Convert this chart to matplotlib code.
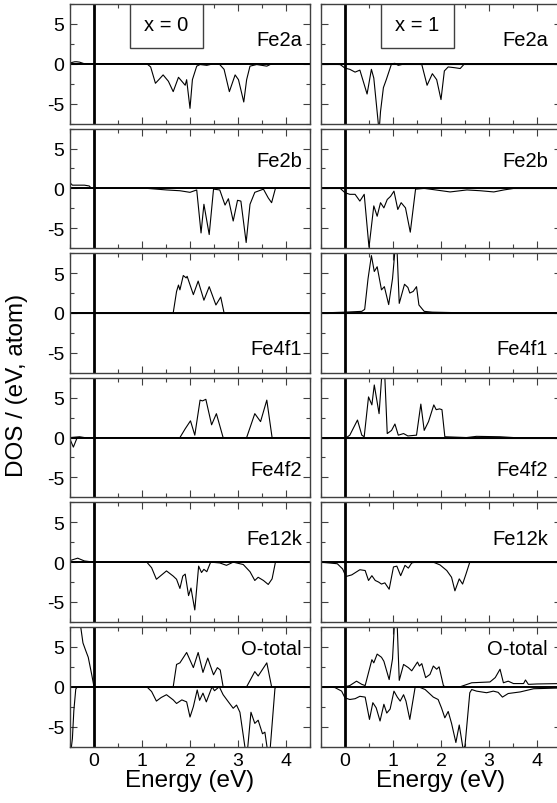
#spin-resolved partial DOS, x = 0 and x = 1
import numpy as np
import matplotlib.pyplot as plt
from matplotlib.patches import Rectangle
from matplotlib.ticker import MultipleLocator

plt.rcParams['font.family'] = ['Liberation Sans', 'DejaVu Sans']
plt.rcParams['axes.unicode_minus'] = False

site_labels = ['Fe2a', 'Fe2b', 'Fe4f1', 'Fe4f2', 'Fe12k', 'O-total']
column_titles = ['x = 0', 'x = 1']

flat_e = [-0.5, 4.5]
flat_d = [0, 0]

# ---- x = 0 ----
e_fe2a_0_up = [-0.5, -0.4, -0.36, -0.3, -0.2, 0.0, 4.5]
d_fe2a_0_up = [0.1, 0.25, 0.25, 0.2, 0.0, 0.0, 0.0]
e_fe2a_0_dn = [-0.5, 1.10, 1.18, 1.28, 1.35, 1.44, 1.55, 1.65, 1.76, 1.83, 1.90, 1.93, 2.00, 2.05,
               2.14, 2.21, 2.35, 2.49, 2.62, 2.71, 2.82, 2.94, 3.01, 3.12, 3.18, 3.25, 3.39, 3.60,
               3.67, 3.75, 4.5]
d_fe2a_0_dn = [0.0, 0.0, -0.4, -2.45, -2.0, -1.4, -2.2, -3.5, -1.7, -2.2, -2.7, -2.0, -5.6, -2.0,
               -0.3, -0.1, -0.2, 0.0, -0.1, -0.7, -3.5, -1.4, -2.0, -4.8, -2.0, -0.3, -0.1, -0.3,
               -0.1, 0.0, 0.0]

e_fe2b_0_up = [-0.5, -0.45, -0.35, -0.2, -0.1, -0.05, 4.5]
d_fe2b_0_up = [0.7, 0.4, 0.4, 0.4, 0.3, 0.0, 0.0]
e_fe2b_0_dn = [-0.5, 1.10, 1.51, 1.79, 2.00, 2.14, 2.23, 2.29, 2.40, 2.49, 2.62, 2.73, 2.80, 2.90,
               2.99, 3.06, 3.17, 3.25, 3.35, 3.53, 3.63, 3.70, 3.78, 4.5]
d_fe2b_0_dn = [0.0, 0.0, -0.2, -0.3, -0.5, -0.2, -5.6, -2.0, -5.8, -0.1, -0.2, -2.1, -1.3, -4.1,
               -1.5, -1.6, -6.8, -2.0, -0.5, -0.1, -1.2, -1.8, 0.0, 0.0]

e_fe4f1_0_up = [-0.5, 1.65, 1.72, 1.76, 1.79, 1.86, 1.92, 1.94, 2.07, 2.17, 2.29, 2.40, 2.54, 2.64,
                2.71, 4.5]
d_fe4f1_0_up = [0.0, 0.0, 2.7, 3.5, 2.9, 4.7, 4.4, 4.6, 2.3, 4.0, 1.6, 3.3, 1.0, 2.0, 0.0, 0.0]
e_fe4f1_0_dn = flat_e
d_fe4f1_0_dn = flat_d

e_fe4f2_0_up = [-0.5, -0.3, -0.2, 1.79, 1.90, 2.01, 2.10, 2.21, 2.26, 2.33, 2.45, 2.55, 2.69, 3.18,
                3.35, 3.47, 3.60, 3.71, 4.5]
d_fe4f2_0_up = [0.0, 0.1, 0.0, 0.0, 1.1, 2.1, 0.3, 4.7, 4.6, 4.8, 1.6, 3.0, 0.0, 0.0, 3.0, 2.0,
                4.7, 0.0, 0.0]
e_fe4f2_0_dn = [-0.5, -0.43, -0.35, 4.5]
d_fe4f2_0_dn = [-0.2, -1.2, 0.0, 0.0]

e_fe12k_0_up = [-0.5, -0.34, -0.2, 0.0, 4.5]
d_fe12k_0_up = [0.2, 0.5, 0.15, 0.0, 0.0]
e_fe12k_0_dn = [-0.5, 1.10, 1.20, 1.30, 1.38, 1.51, 1.65, 1.72, 1.79, 1.85, 1.90, 1.97, 2.02, 2.10,
                2.18, 2.24, 2.29, 2.35, 2.43, 2.62, 2.76, 2.90, 3.11, 3.25, 3.35, 3.42, 3.53, 3.63,
                3.71, 3.78, 4.5]
d_fe12k_0_dn = [0.0, 0.0, -0.7, -2.15, -1.75, -1.1, -1.75, -2.15, -3.3, -1.75, -1.5, -4.2, -3.25,
                -6.0, -0.5, -1.3, -0.9, -1.2, 0.0, -0.1, -0.4, 0.0, -0.3, -1.2, -2.3, -1.9, -2.3,
                -2.8, -2.1, 0.0, 0.0]

e_ot_0_up = [-0.5, -0.3, -0.23, -0.17, -0.12, -0.05, 0.0, 1.65, 1.72, 1.79, 1.93, 2.07, 2.17, 2.27,
             2.37, 2.49, 2.57, 2.63, 2.69, 3.18, 3.35, 3.42, 3.60, 3.70, 4.5]
d_ot_0_up = [12.0, 8.5, 5.5, 4.5, 3.7, 1.6, 0.0, 0.0, 2.8, 3.0, 4.3, 2.4, 4.3, 1.8,
             3.6, 1.5, 2.4, 2.1, 0.0, 0.0, 1.9, 1.35, 3.0, 0.0, 0.0]
e_ot_0_dn = [-0.5, -0.45, -0.42, -0.38, -0.35, 1.10, 1.20, 1.30, 1.40, 1.51, 1.65, 1.72, 1.83, 1.93,
             2.00, 2.07, 2.15, 2.20, 2.27, 2.34, 2.46, 2.51, 2.61, 2.69, 2.80, 2.90, 2.97, 3.04,
             3.15, 3.20, 3.27, 3.35, 3.42, 3.51, 3.56, 3.61, 3.67, 3.77, 3.80, 4.5]
d_ot_0_dn = [-9.0, -6.5, -3.0, -0.3, 0.0, 0.0, -0.6, -1.8, -1.35, -1.0, -1.65, -2.1, -1.65, -1.9,
             -3.8, -2.5, -0.4, -1.7, -0.8, -1.9, 0.0, -0.5, 0.0, -1.0, -1.9, -2.7, -2.3, -3.2,
             -7.8, -7.8, -3.2, -4.6, -4.2, -5.9, -5.7, -7.8, -7.8, -0.2, 0.0, 0.0]

# ---- x = 1 ----
e_fe2a_1_up = flat_e
d_fe2a_1_up = flat_d
e_fe2a_1_dn = [-0.5, -0.1, 0.0, 0.10, 0.21, 0.31, 0.38, 0.46, 0.55, 0.60, 0.71, 0.74, 0.80, 0.86,
               0.97, 1.04, 1.11, 1.25, 1.60, 1.71, 1.82, 1.91, 2.00, 2.07, 2.15, 2.29, 2.40, 2.49,
               4.5]
d_fe2a_1_dn = [0.0, -0.1, -0.55, -0.7, -1.05, -0.8, -2.2, -3.8, -0.7, -1.8, -8.5, -6.0, -3.0, -2.0,
               0.0, 0.05, -0.2, 0.0, -0.1, -2.7, -1.25, -2.0, -4.5, -0.9, -0.4, -0.5, -0.6, 0.0,
               0.0]

e_fe2b_1_up = flat_e
d_fe2b_1_up = flat_d
e_fe2b_1_dn = [-0.5, -0.1, 0.0, 0.10, 0.21, 0.31, 0.40, 0.50, 0.60, 0.67, 0.74, 0.81, 0.88, 0.95,
               1.02, 1.10, 1.17, 1.26, 1.36, 1.47, 1.65, 2.19, 2.54, 2.82, 3.10, 3.31, 3.52, 4.5]
d_fe2b_1_dn = [0.0, 0.0, -0.55, -0.75, -0.75, -1.6, -0.75, -7.4, -2.2, -3.5, -1.8, -2.45, -1.4,
               -1.0, -0.35, -2.65, -1.8, -2.45, -5.5, -0.1, 0.0, -0.45, -0.2, -0.3, -0.45, -0.2,
               0.0, 0.0]

e_fe4f1_1_up = [-0.5, 0.0, 0.35, 0.41, 0.48, 0.55, 0.61, 0.67, 0.76, 0.82, 0.91, 0.99, 1.05, 1.08,
                1.13, 1.24, 1.31, 1.35, 1.42, 1.49, 1.54, 1.65, 1.82, 2.60, 4.5]
d_fe4f1_1_up = [0.0, 0.1, 0.2, 0.45, 4.3, 7.2, 5.2, 5.8, 2.9, 3.3, 1.05, 4.3, 8.5, 8.5,
                1.2, 3.6, 3.2, 2.5, 2.7, 3.3, 1.0, 0.2, 0.1, 0.0, 0.0]
e_fe4f1_1_dn = flat_e
d_fe4f1_1_dn = flat_d

e_fe4f2_1_up = [-0.5, 0.03, 0.10, 0.26, 0.35, 0.40, 0.49, 0.56, 0.61, 0.71, 0.78, 0.82, 0.88, 0.97,
                1.04, 1.11, 1.22, 1.31, 1.49, 1.58, 1.65, 1.74, 1.85, 1.90, 1.97, 2.02, 2.08, 2.53,
                2.74, 3.23, 3.51, 4.5]
d_fe4f2_1_up = [0.0, 0.0, 0.3, 2.2, 0.3, 0.1, 5.1, 4.1, 6.6, 3.0, 9.0, 9.0, 0.5, 0.9,
                1.7, 0.3, 0.5, 0.2, 0.3, 4.2, 0.9, 2.0, 4.1, 3.5, 3.6, 3.5, 0.1, 0.0,
                0.15, 0.1, 0.0, 0.0]
e_fe4f2_1_dn = flat_e
d_fe4f2_1_dn = flat_d

e_fe12k_1_up = flat_e
d_fe12k_1_up = flat_d
e_fe12k_1_dn = [-0.5, -0.16, -0.05, 0.02, 0.14, 0.31, 0.42, 0.49, 0.56, 0.63, 0.70, 0.76, 0.83,
                0.92, 1.01, 1.08, 1.16, 1.25, 1.32, 1.39, 1.46, 1.84, 1.98, 2.12, 2.22, 2.29, 2.38,
                2.45, 2.52, 2.60, 4.5]
d_fe12k_1_dn = [0.0, -0.2, -0.85, -1.8, -1.6, -0.95, -1.05, -2.3, -1.7, -2.3, -2.5, -2.75, -2.6,
                -3.4, -0.6, -0.5, -1.7, -0.4, -0.75, -0.1, 0.0, 0.0, -0.35, -1.05, -1.9, -3.6,
                -2.1, -2.75, -1.5, 0.0, 0.0]

e_ot_1_up = [-0.5, 0.0, 0.10, 0.24, 0.35, 0.42, 0.56, 0.60, 0.67, 0.76, 0.81, 0.92, 0.99, 1.04,
             1.08, 1.13, 1.22, 1.32, 1.39, 1.51, 1.55, 1.60, 1.68, 1.77, 1.84, 1.91, 1.96, 2.05,
             2.08, 2.40, 2.64, 3.02, 3.13, 3.23, 3.30, 3.40, 3.51, 3.72, 3.76, 3.82, 4.0, 4.5]
d_ot_1_up = [0.0, 0.0, 0.15, 0.7, 0.3, 0.15, 3.4, 3.0, 4.1, 3.7, 3.2, 0.9, 3.5, 9.0,
             9.0, 0.8, 2.8, 2.4, 2.0, 3.1, 2.6, 2.9, 1.15, 1.55, 2.6, 2.2, 2.5, 0.15,
             0.0, 0.0, 0.5, 0.6, 1.15, 2.2, 0.5, 0.7, 0.4, 0.4, 0.85, 0.3, 0.35, 0.4]
e_ot_1_dn = [-0.52, -0.21, -0.07, 0.0, 0.10, 0.21, 0.31, 0.42, 0.51, 0.58, 0.65, 0.73, 0.81, 0.87,
             0.94, 1.02, 1.09, 1.15, 1.22, 1.27, 1.35, 1.46, 1.53, 1.67, 1.84, 1.94, 2.01, 2.08,
             2.15, 2.22, 2.31, 2.38, 2.46, 2.50, 2.60, 2.64, 2.74, 2.95, 3.09, 3.19, 3.28, 3.40,
             3.65, 3.79, 3.93, 4.5]
d_ot_1_dn = [0.0, -0.1, -0.55, -1.4, -1.6, -1.5, -1.2, -1.3, -4.1, -2.0, -2.65, -4.3, -2.2, -3.3,
             -2.8, -0.55, -1.3, -1.8, -1.0, -1.8, -4.1, -0.1, 0.0, -0.35, -1.3, -1.6, -2.65, -3.9,
             -3.1, -4.6, -7.0, -4.8, -7.8, -7.4, -0.75, -0.35, -0.55, -0.75, -0.55, -0.7, -1.3,
             -0.85, -0.65, -0.45, -0.25, -0.15]

curves = [
    [(e_fe2a_0_up, d_fe2a_0_up, e_fe2a_0_dn, d_fe2a_0_dn),
     (e_fe2b_0_up, d_fe2b_0_up, e_fe2b_0_dn, d_fe2b_0_dn),
     (e_fe4f1_0_up, d_fe4f1_0_up, e_fe4f1_0_dn, d_fe4f1_0_dn),
     (e_fe4f2_0_up, d_fe4f2_0_up, e_fe4f2_0_dn, d_fe4f2_0_dn),
     (e_fe12k_0_up, d_fe12k_0_up, e_fe12k_0_dn, d_fe12k_0_dn),
     (e_ot_0_up, d_ot_0_up, e_ot_0_dn, d_ot_0_dn)],
    [(e_fe2a_1_up, d_fe2a_1_up, e_fe2a_1_dn, d_fe2a_1_dn),
     (e_fe2b_1_up, d_fe2b_1_up, e_fe2b_1_dn, d_fe2b_1_dn),
     (e_fe4f1_1_up, d_fe4f1_1_up, e_fe4f1_1_dn, d_fe4f1_1_dn),
     (e_fe4f2_1_up, d_fe4f2_1_up, e_fe4f2_1_dn, d_fe4f2_1_dn),
     (e_fe12k_1_up, d_fe12k_1_up, e_fe12k_1_dn, d_fe12k_1_dn),
     (e_ot_1_up, d_ot_1_up, e_ot_1_dn, d_ot_1_dn)],
]

label_base = [2.4, 2.75, -5.1, -4.7, 2.3, 4.1]
label_right = [4.33, 4.23]

W, H = 557, 804
fig = plt.figure(figsize=(W / 100, H / 100), dpi=100)

col_left = [70, 321]
col_w = 240
row_top0, row_pitch, row_h = 5, 124.6, 119.5

for c in range(2):
    for r in range(6):
        top = row_top0 + r * row_pitch
        ax = fig.add_axes([col_left[c] / W, 1 - (top + row_h) / H, col_w / W, row_h / H])
        eu, du, ed, dd = curves[c][r]
        ax.plot(eu, du, color='black', lw=0.8)
        ax.plot(ed, dd, color='black', lw=0.8)
        ax.axhline(0, color='black', lw=1.4)
        ax.axvline(0, color='black', lw=2.0)
        ax.set_xlim(-0.5, 4.5)
        ax.set_ylim(-7.5, 7.5)
        ax.xaxis.set_major_locator(MultipleLocator(1))
        ax.xaxis.set_minor_locator(MultipleLocator(0.5))
        ax.yaxis.set_major_locator(MultipleLocator(5))
        ax.yaxis.set_minor_locator(MultipleLocator(2.5))
        ax.tick_params(which='both', direction='in', top=True, right=True, labelsize=14,
                       color='0.25')
        ax.tick_params(which='major', length=5, width=0.8, pad=4)
        ax.tick_params(which='minor', length=3, width=0.8)
        for s in ax.spines.values():
            s.set_color('0.25')
            s.set_linewidth(1.0)
        if c == 1:
            ax.set_yticklabels([])
        if r < 5:
            ax.set_xticklabels([])
        else:
            ax.set_xlabel('Energy (eV)', fontsize=17.5, labelpad=0)
        ax.text(label_right[c], label_base[r], site_labels[r], ha='right', va='baseline',
                fontsize=14.5, bbox=dict(fc='white', ec='none', pad=0.5))
        if r == 0:
            ax.add_patch(Rectangle((0.25, 0.633), 0.304, 0.367, transform=ax.transAxes,
                                   fc='white', ec='0.25', lw=1.0, zorder=3))
            ax.text(0.402, 0.83, column_titles[c], transform=ax.transAxes, ha='center',
                    va='center', fontsize=14.5, zorder=4)

fig.text(17 / W, 1 - 385 / H, 'DOS / (eV, atom)', rotation=90, ha='center', va='center',
         fontsize=17.5)

fig.savefig('out.png', dpi=100)
